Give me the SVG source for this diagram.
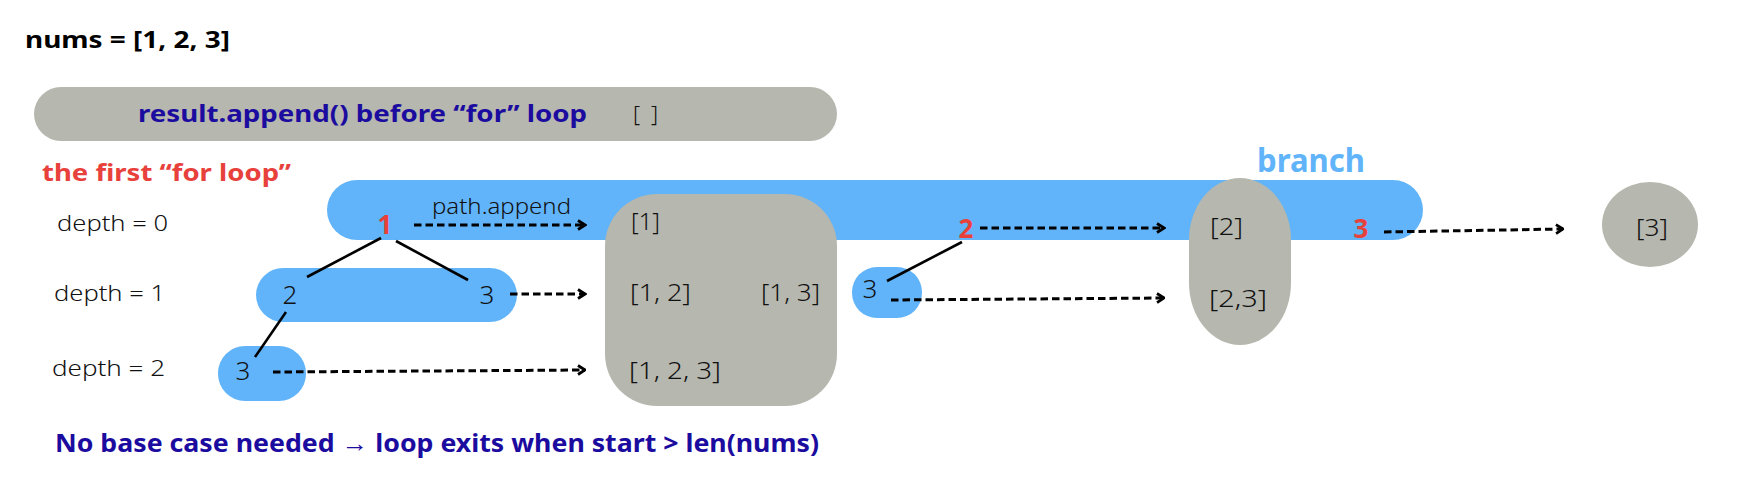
<svg xmlns="http://www.w3.org/2000/svg" width="1744" height="480" viewBox="0 0 1744 480">
<style>
text{font-family:"Noto Sans","Liberation Sans",sans-serif;}
.b{font-weight:700;}
.l{font-weight:300;fill:#111;}
.blue{fill:#61b4f9;}
.gray{fill:#b6b7ae;}
.red{fill:#e8413b;font-weight:700;}
.navy{fill:#1b0c9f;font-weight:700;}
.dash{fill:none;stroke:#000;stroke-width:3;stroke-dasharray:7.5 4;marker-end:url(#arr);}
.edge{fill:none;stroke:#000;stroke-width:2.6;}
</style>
<defs>
<marker id="arr" markerUnits="userSpaceOnUse" viewBox="0 0 10 12" refX="8.5" refY="6" markerWidth="10" markerHeight="12" orient="auto">
<path d="M1.5,1.5 L8.5,6 L1.5,10.5" fill="none" stroke="#000" stroke-width="2.8" stroke-dasharray="none"/>
</marker>
</defs>
<rect width="1744" height="480" fill="#fff"/>

<g id="title">
<text x="25" y="48" class="b" font-size="23" textLength="205" lengthAdjust="spacingAndGlyphs">nums = [1, 2, 3]</text>
</g>

<g id="result-bar">
<rect class="gray" x="34" y="87" width="803" height="54" rx="27"/>
<text x="138" y="122" class="navy" font-size="24" textLength="449" lengthAdjust="spacingAndGlyphs">result.append() before “for” loop</text>
<text x="633" y="122" class="l" font-size="22" textLength="25" lengthAdjust="spacing">[ ]</text>
</g>

<g id="first-for-label">
<text x="42" y="181" class="red" font-size="24" textLength="249" lengthAdjust="spacingAndGlyphs">the first “for loop”</text>
</g>

<g id="branch-label">
<text x="1257" y="172" class="b" fill="#61b4f9" font-size="33" textLength="108" lengthAdjust="spacingAndGlyphs">branch</text>
</g>

<g id="depth-labels">
<text x="57" y="231" class="l" font-size="22" textLength="111" lengthAdjust="spacingAndGlyphs">depth = 0</text>
<text x="54" y="301" class="l" font-size="22" textLength="111" lengthAdjust="spacingAndGlyphs">depth = 1</text>
<text x="52" y="376" class="l" font-size="22" textLength="113" lengthAdjust="spacingAndGlyphs">depth = 2</text>
</g>

<g id="depth0-bar">
<rect class="blue" x="327" y="180" width="1096" height="60" rx="30"/>
</g>

<g id="depth1-bar">
<rect class="blue" x="256" y="268" width="261" height="54" rx="27"/>
<text x="290" y="304" class="l" font-size="26" text-anchor="middle">2</text>
<text x="487" y="304" class="l" font-size="26" text-anchor="middle">3</text>
</g>

<g id="depth2-node">
<rect class="blue" x="218" y="346" width="88" height="55" rx="27"/>
<text x="243" y="380" class="l" font-size="26" text-anchor="middle">3</text>
</g>

<g id="branch2-child">
<rect class="blue" x="852" y="267" width="70" height="51" rx="25"/>
<text x="870" y="298" class="l" font-size="26" text-anchor="middle">3</text>
</g>

<g id="result-box-1">
<rect class="gray" x="605" y="194" width="232" height="212" rx="52"/>
<text x="631" y="230" class="l" font-size="24" textLength="29" lengthAdjust="spacingAndGlyphs">[1]</text>
<text x="630" y="301" class="l" font-size="24" textLength="61" lengthAdjust="spacingAndGlyphs">[1, 2]</text>
<text x="761" y="301" class="l" font-size="24" textLength="59" lengthAdjust="spacingAndGlyphs">[1, 3]</text>
<text x="629" y="379" class="l" font-size="24" textLength="92" lengthAdjust="spacingAndGlyphs">[1, 2, 3]</text>
</g>

<g id="result-box-2">
<rect class="gray" x="1189" y="178" width="102" height="167" rx="51" ry="62"/>
<text x="1210" y="235" class="l" font-size="24" textLength="33" lengthAdjust="spacingAndGlyphs">[2]</text>
<text x="1209" y="307" class="l" font-size="24" textLength="58" lengthAdjust="spacingAndGlyphs">[2,3]</text>
</g>

<g id="result-box-3">
<ellipse class="gray" cx="1650" cy="224.5" rx="48" ry="42.5"/>
<text x="1636" y="236" class="l" font-size="24" textLength="32" lengthAdjust="spacingAndGlyphs">[3]</text>
</g>

<g id="choices">
<text x="385" y="234" class="red" font-size="26" text-anchor="middle">1</text>
<text x="966" y="238" class="red" font-size="26" text-anchor="middle">2</text>
<text x="1361" y="238" class="red" font-size="26" text-anchor="middle">3</text>
<text x="432" y="214" class="l" font-size="21" textLength="139" lengthAdjust="spacingAndGlyphs">path.append</text>
</g>

<g id="connectors">
<path class="edge" d="M381,238 L307,277"/>
<path class="edge" d="M396,241 L468,280"/>
<path class="edge" d="M286,312 L255,357"/>
<path class="edge" d="M887,281 L962,242"/>
<path class="dash" d="M414,225 L585,225"/>
<path class="dash" d="M510,294 L585,294"/>
<path class="dash" d="M273,372 L585,370"/>
<path class="dash" d="M980,228 L1164,228"/>
<path class="dash" d="M891,300 L1164,298"/>
<path class="dash" d="M1384,232 L1563,229"/>
</g>

<g id="footer">
<text x="55" y="452" class="navy" font-size="25" textLength="764" lengthAdjust="spacingAndGlyphs">No base case needed → loop exits when start &gt; len(nums)</text>
</g>
</svg>
